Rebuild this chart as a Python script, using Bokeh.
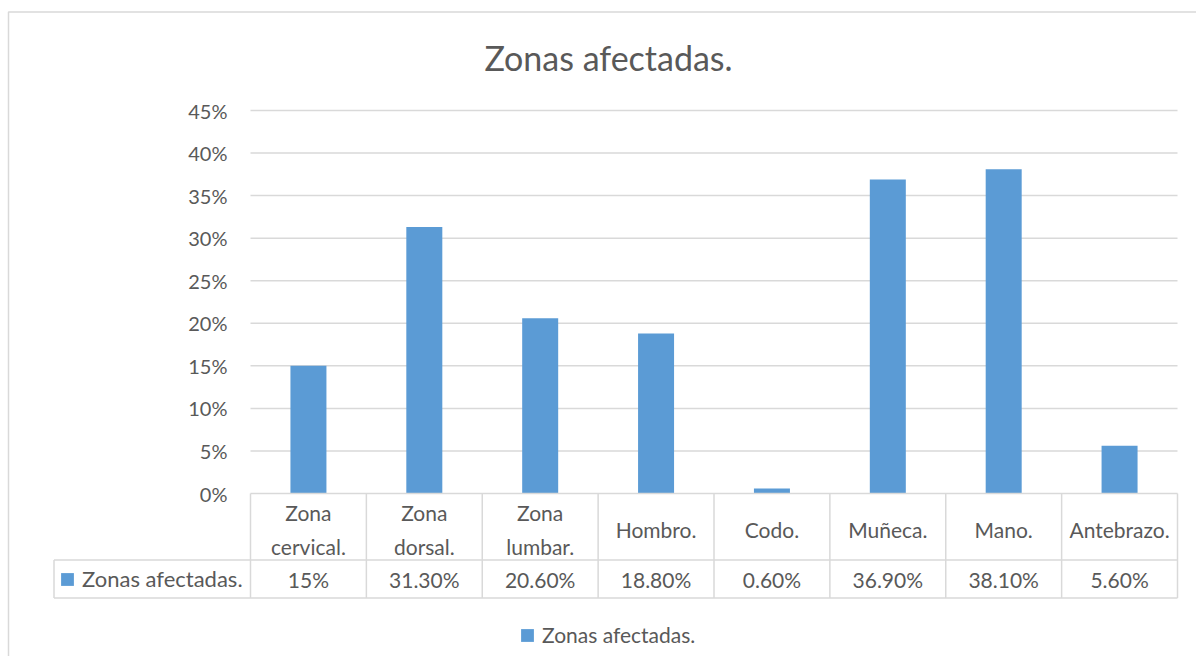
from bokeh.plotting import figure
from bokeh.models import Range1d, Legend, LegendItem, Label, ColumnDataSource
from bokeh.embed import file_html
from bokeh.resources import INLINE
from bokeh.core.properties import value

# ---------------- data ----------------
categories = ["Zona\ncervical.", "Zona\ndorsal.", "Zona\nlumbar.", "Hombro.",
              "Codo.", "Muñeca.", "Mano.", "Antebrazo."]
values = [15.0, 31.3, 20.6, 18.8, 0.6, 36.9, 38.1, 5.6]
value_labels = ["15%", "31.30%", "20.60%", "18.80%", "0.60%", "36.90%", "38.10%", "5.60%"]
y_ticks = [0, 5, 10, 15, 20, 25, 30, 35, 40, 45]
y_tick_labels = ["0%", "5%", "10%", "15%", "20%", "25%", "30%", "35%", "40%", "45%"]
series_name = "Zonas afectadas."
title_text = "Zonas afectadas."

# ---------------- layout constants (pixels) ----------------
W, H = 1196, 656
X0 = 250.0            # x of the first category column
COL = 927.0 / 8       # width of one category column
Y0 = 493.0            # y of 0 %
PXP = 383.0 / 45.0    # pixels per percent

FONT = "Lato"
TXT = "#595959"
GRID = "#d9d9d9"
BLUE = "#5b9bd5"


def dx(px):
    return (px - X0) / COL


def dy(py):
    return (Y0 - py) / PXP


n = len(categories)
centers = [i + 0.5 for i in range(n)]

p = figure(width=W, height=H, output_backend="svg", toolbar_location=None,
           x_range=Range1d(dx(0), dx(W)),
           y_range=Range1d(dy(H), dy(0)),
           x_axis_type=None, y_axis_type=None, min_border=0)
p.outline_line_color = None
p.background_fill_color = "white"
p.border_fill_color = "white"

# outer chart border (left and top visible)
p.line(x=[dx(8), dx(8), dx(1400)], y=[dy(800), dy(11.5), dy(11.5)],
       line_color=GRID, line_width=1.5)

# horizontal gridlines
gt = y_ticks[1:]
p.segment(x0=[0] * len(gt), x1=[n] * len(gt), y0=gt, y1=gt,
          line_color=GRID, line_width=1.5)

# bars
src = ColumnDataSource(dict(x=centers, top=values))
bars = p.vbar(x="x", top="top", width=36.0 / COL, bottom=0, source=src,
              fill_color=BLUE, line_color=None)

# y tick labels
p.text(x=[0] * len(y_ticks), y=y_ticks, text=y_tick_labels, x_offset=-23,
       text_align="right", text_baseline="middle", text_font=value(FONT),
       text_font_size="20px", text_color=TXT)

# data table lines
row1_bottom = dy(559.5)
row2_bottom = dy(597.5)
left_edge = dx(53.5)
p.segment(x0=[0, left_edge, left_edge], x1=[n, n, n],
          y0=[0, row1_bottom, row2_bottom], y1=[0, row1_bottom, row2_bottom],
          line_color=GRID, line_width=1.5)
vx = list(range(n + 1))
p.segment(x0=vx, x1=vx, y0=[0] * len(vx), y1=[row2_bottom] * len(vx),
          line_color=GRID, line_width=1.5)
p.segment(x0=[left_edge], x1=[left_edge], y0=[row1_bottom], y1=[row2_bottom],
          line_color=GRID, line_width=1.5)

# table texts
p.text(x=centers, y=[dy(529)] * n, text=categories, text_align="center",
       text_baseline="middle", text_font=value(FONT), text_font_size="21px",
       text_color=TXT, text_line_height=1.38)
p.text(x=centers, y=[dy(579)] * n, text=value_labels, text_align="center",
       text_baseline="middle", text_font=value(FONT), text_font_size="21px",
       text_color=TXT)


# legends (table row key + bottom legend)
def make_legend(loc, size):
    return Legend(items=[LegendItem(label=series_name, renderers=[bars])],
                  location=loc, orientation="horizontal",
                  border_line_color=None, background_fill_alpha=0,
                  padding=0, margin=0, glyph_width=16, glyph_height=16,
                  label_standoff=7, label_height=16,
                  label_text_font=FONT, label_text_font_size=size,
                  label_text_color=TXT, label_text_baseline="middle")


p.add_layout(make_legend((59, H - 592), "22px"))
p.add_layout(make_legend((519, H - 647), "21px"))

# title
p.add_layout(Label(x=608, y=H - 57, x_units="screen", y_units="screen",
                   text=title_text, text_align="center", text_baseline="middle",
                   text_font=FONT, text_font_size="34px", text_color=TXT))

open("out.html", "w").write(file_html(p, INLINE))
